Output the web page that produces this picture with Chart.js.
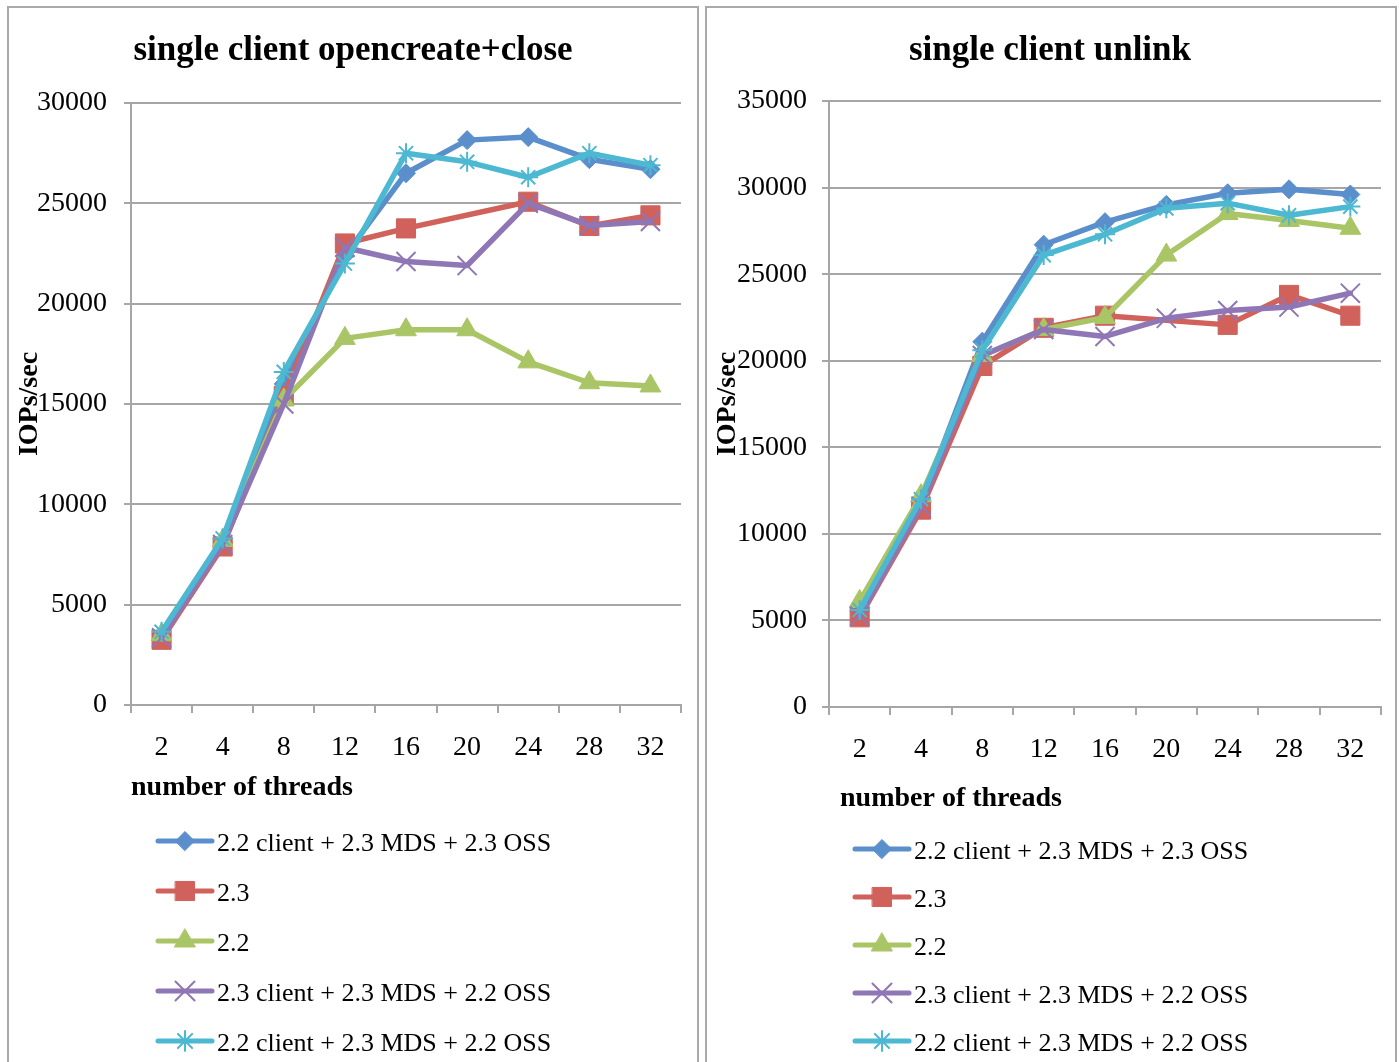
<!DOCTYPE html>
<html><head><meta charset="utf-8">
<script src="https://cdn.jsdelivr.net/npm/chart.js@4"></script>
<style>
html,body{margin:0;padding:0;background:#fff;width:1399px;height:1062px;overflow:hidden;}
.panel{position:absolute;border:2px solid #a9a9a9;box-sizing:border-box;background:#fff;}
#pL{left:7px;top:6px;width:692px;height:1080px;}
#pR{left:705px;top:6px;width:692px;height:1080px;}
canvas{position:absolute;top:0;}
#cL{left:0px;}
#cR{left:702px;}
</style></head><body>
<div class="panel" id="pL"></div><div class="panel" id="pR"></div>
<canvas id="cL" width="702" height="1062"></canvas>
<canvas id="cR" width="697" height="1062"></canvas>
<script>
// ---- data ----
const categories = ['2', '4', '8', '12', '16', '20', '24', '28', '32'];
const seriesNames = [
  '2.2 client + 2.3 MDS + 2.3 OSS',
  '2.3',
  '2.2',
  '2.3 client + 2.3 MDS + 2.2 OSS',
  '2.2 client + 2.3 MDS + 2.2 OSS'
];
// single client opencreate+close
const openBlue   = [3500, 8100, 16000, 22400, 26500, 28150, 28300, 27200, 26700];
const openRed    = [3250, 7900, 15400, 23000, 23750, null, 25080, 23870, 24400];
const openGreen  = [3500, 8200, 15200, 18270, 18700, 18700, 17100, 16060, 15900];
const openPurple = [3350, 8000, 15000, 22800, 22100, 21900, 25000, 23900, 24100];
const openCyan   = [3650, 8300, 16600, 22000, 27500, 27070, 26300, 27500, 26900];
// single client unlink
const unlinkBlue   = [5500, 11800, 21100, 26700, 28000, 29000, 29670, 29900, 29600];
const unlinkRed    = [5180, 11400, 19700, 21900, 22600, null, 22070, 23800, 22600];
const unlinkGreen  = [6100, 12200, 20300, 21800, 22500, 26100, 28500, 28100, 27650];
const unlinkPurple = [5250, 11600, 20300, 21800, 21400, 22450, 22900, 23100, 23900];
const unlinkCyan   = [5600, 12000, 20600, 26100, 27300, 28800, 29100, 28400, 28900];
const openYMax = 30000;
const unlinkYMax = 35000;
const yStep = 5000;
const titleOpen = 'single client opencreate+close';
const titleUnlink = 'single client unlink';
const xTitle = 'number of threads';
const yTitle = 'IOPs/sec';

// ---- styles ----
const colors = ['#5B8FCB', '#D0625B', '#A9C566', '#8F76B4', '#4DB8D2'];
const pStyles = ['rectRot', 'rect', 'triangle', 'crossRot', 'star'];
const pRadius = [9.5, 13.5, 12, 13.5, 10];
const pBorder = [1, 1, 1, 2, 2];
const drawOrder = [5, 4, 3, 2, 1];
const FONT = "'Liberation Serif', 'Times New Roman', serif";

function makeDatasets(arrs) {
  return arrs.map((d, i) => ({
    label: seriesNames[i],
    data: d,
    borderColor: colors[i],
    backgroundColor: colors[i],
    pointBackgroundColor: colors[i],
    pointBorderColor: colors[i],
    borderWidth: 5.5,
    pointStyle: pStyles[i],
    pointRadius: pRadius[i],
    pointBorderWidth: pBorder[i],
    borderJoinStyle: 'round',
    borderCapStyle: 'round',
    spanGaps: true,
    tension: 0,
    order: drawOrder[i]
  }));
}

function decorPlugin(cfg) {
  return {
    id: 'decor',
    afterDraw(chart) {
      const ctx = chart.ctx;
      ctx.save();
      ctx.fillStyle = '#000';
      ctx.font = 'bold 35px ' + FONT;
      ctx.textAlign = 'center';
      ctx.textBaseline = 'alphabetic';
      ctx.fillText(cfg.title, cfg.titleX, cfg.titleY);
      ctx.font = 'bold 28px ' + FONT;
      ctx.textAlign = 'left';
      ctx.fillText(xTitle, cfg.xTitleX, cfg.xTitleY);
      ctx.font = '26px ' + FONT;
      ctx.textBaseline = 'middle';
      chart.data.datasets.forEach((ds, i) => {
        const y = cfg.legY + i * cfg.legDY;
        ctx.strokeStyle = ds.borderColor;
        ctx.lineWidth = 5;
        ctx.lineCap = 'round';
        ctx.beginPath();
        ctx.moveTo(cfg.legX1, y);
        ctx.lineTo(cfg.legX2, y);
        ctx.stroke();
        ctx.fillStyle = ds.pointBackgroundColor;
        ctx.strokeStyle = ds.pointBorderColor;
        ctx.lineWidth = ds.pointBorderWidth;
        Chart.helpers.drawPoint(ctx, {pointStyle: ds.pointStyle, rotation: 0, radius: ds.pointRadius, borderWidth: ds.pointBorderWidth}, (cfg.legX1 + cfg.legX2) / 2, y);
        ctx.fillStyle = '#000';
        ctx.fillText(ds.label, cfg.legTX, y + 3);
      });
      ctx.restore();
    }
  };
}

function makeChart(id, arrs, cfg) {
  const gridColor = '#a6a6a6';
  return new Chart(document.getElementById(id), {
    type: 'line',
    data: { labels: categories, datasets: makeDatasets(arrs) },
    options: {
      responsive: false,
      animation: false,
      devicePixelRatio: 1,
      layout: { padding: { left: cfg.padL, top: cfg.top, right: cfg.padR, bottom: 0 } },
      plugins: { legend: { display: false }, title: { display: false }, tooltip: { enabled: false } },
      scales: {
        x: {
          type: 'category',
          offset: true,
          grid: { display: true, drawOnChartArea: false, drawTicks: true, tickLength: 8, color: gridColor, lineWidth: 2, offset: true },
          border: { color: gridColor, width: 2 },
          ticks: { font: { family: FONT, size: 28 }, color: '#000', padding: cfg.xPad, maxRotation: 0, autoSkip: false },
          afterFit(s) { s.height = cfg.xH; }
        },
        y: {
          min: 0, max: cfg.max,
          ticks: { stepSize: yStep, font: { family: FONT, size: 28 }, color: '#000', padding: cfg.yPad, callback: v => String(v) },
          grid: { color: gridColor, lineWidth: 2, tickLength: 7 },
          border: { color: gridColor, width: 2 },
          title: { display: true, text: yTitle, font: { family: FONT, size: 28, weight: 'bold' }, color: '#000', padding: { top: cfg.yTitlePad, bottom: 0 } },
          afterFit(s) { s.width = cfg.yW; }
        }
      }
    },
    plugins: [decorPlugin(cfg)]
  });
}

makeChart('cL', [openBlue, openRed, openGreen, openPurple, openCyan], {
  padL: 10, yW: 121, padR: 21, top: 103, xH: 357, max: openYMax, xPad: 18, yPad: 17, yTitlePad: 3,
  title: titleOpen, titleX: 353, titleY: 60,
  xTitleX: 131, xTitleY: 795,
  legY: 841, legDY: 50, legX1: 158, legX2: 212, legTX: 217
});
makeChart('cR', [unlinkBlue, unlinkRed, unlinkGreen, unlinkPurple, unlinkCyan], {
  padL: 6, yW: 121, padR: 18, top: 101, xH: 355, max: unlinkYMax, xPad: 18, yPad: 15, yTitlePad: 3,
  title: titleUnlink, titleX: 348, titleY: 60,
  xTitleX: 138, xTitleY: 806,
  legY: 849, legDY: 48, legX1: 153, legX2: 207, legTX: 212
});
</script>
</body></html>
